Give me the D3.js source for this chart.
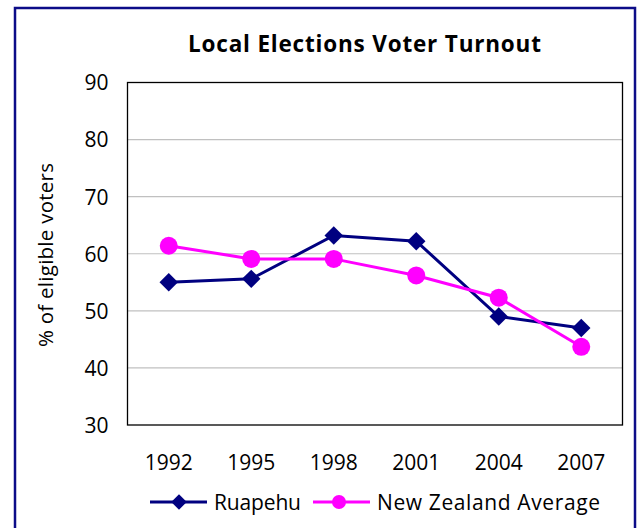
<!DOCTYPE html>
<html>
<head>
<meta charset="utf-8">
<title>Local Elections Voter Turnout</title>
<script src="https://cdnjs.cloudflare.com/ajax/libs/d3/7.8.5/d3.min.js"></script>
<style>
  body { margin: 0; background: #fff; }
  text { font-family: "Open Sans", Lato, sans-serif; fill: #000; }
</style>
</head>
<body>
<svg id="chart" width="642" height="528"></svg>
<script>
// data
var years = ["1992", "1995", "1998", "2001", "2004", "2007"];
var ruapehu = [55.0, 55.6, 63.2, 62.2, 49.0, 47.0];
var nzAverage = [61.4, 59.1, 59.1, 56.2, 52.3, 43.7];
var yTicks = [30, 40, 50, 60, 70, 80, 90];

var svg = d3.select("#chart");

// outer frame
svg.append("rect")
  .attr("x", 15).attr("y", 8)
  .attr("width", 620).attr("height", 540)
  .attr("fill", "none")
  .attr("stroke", "#0c0c88")
  .attr("stroke-width", 2.5);

var plot = { left: 127.5, top: 82.5, right: 622.5, bottom: 425 };

var x = d3.scaleBand().domain(years).range([plot.left, plot.right]);
var y = d3.scaleLinear().domain([30, 90]).range([plot.bottom, plot.top]);

// gridlines
svg.append("g")
  .selectAll("line")
  .data(yTicks.filter(function(d) { return d > 30 && d < 90; }))
  .join("line")
  .attr("x1", plot.left).attr("x2", plot.right)
  .attr("y1", function(d) { return y(d); })
  .attr("y2", function(d) { return y(d); })
  .attr("stroke", "#c0c0c0")
  .attr("stroke-width", 1.2);

// plot border
svg.append("rect")
  .attr("x", plot.left).attr("y", plot.top)
  .attr("width", plot.right - plot.left)
  .attr("height", plot.bottom - plot.top)
  .attr("fill", "none")
  .attr("stroke", "#000")
  .attr("stroke-width", 1.3);

// y axis labels
var yAxis = d3.axisLeft(y).tickValues(yTicks).tickSize(0).tickPadding(19);
var gy = svg.append("g")
  .attr("transform", "translate(" + plot.left + ",0)")
  .call(yAxis);
gy.select(".domain").remove();
gy.selectAll("text")
  .style("font-size", "21px")
  .attr("dy", "0.35em");

// x axis labels
var xAxis = d3.axisBottom(x).tickSize(0).tickPadding(30);
var gx = svg.append("g")
  .attr("transform", "translate(0," + plot.bottom + ")")
  .call(xAxis);
gx.select(".domain").remove();
gx.selectAll("text").style("font-size", "21px");

// title
svg.append("text")
  .attr("x", 364.5).attr("y", 52)
  .attr("text-anchor", "middle")
  .attr("textLength", 353)
  .style("font-size", "22.5px")
  .style("font-weight", "bold")
  .text("Local Elections Voter Turnout");

// y axis title
svg.append("text")
  .attr("transform", "translate(53,255) rotate(-90)")
  .attr("text-anchor", "middle")
  .attr("textLength", 184)
  .style("font-size", "20.5px")
  .text("% of eligible voters");

var line = d3.line()
  .x(function(d, i) { return x(years[i]) + x.bandwidth() / 2; })
  .y(function(d) { return y(d); });

var diamond = d3.symbol().type(d3.symbolSquare).size(170);

function drawRuapehu() {
  svg.append("path")
    .datum(ruapehu)
    .attr("d", line)
    .attr("fill", "none")
    .attr("stroke", "#000080")
    .attr("stroke-width", 3);
}

function drawNz() {
  svg.append("path")
    .datum(nzAverage)
    .attr("d", line)
    .attr("fill", "none")
    .attr("stroke", "#ff00ff")
    .attr("stroke-width", 3);
}

drawRuapehu();
svg.append("g").selectAll("path")
  .data(ruapehu)
  .join("path")
  .attr("d", diamond)
  .attr("transform", function(d, i) {
    return "translate(" + (x(years[i]) + x.bandwidth() / 2) + "," + y(d) + ") rotate(45)";
  })
  .attr("fill", "#000080");

drawNz();
svg.append("g").selectAll("circle")
  .data(nzAverage)
  .join("circle")
  .attr("cx", function(d, i) { return x(years[i]) + x.bandwidth() / 2; })
  .attr("cy", function(d) { return y(d); })
  .attr("r", 9)
  .attr("fill", "#ff00ff");

// legend
var legend = svg.append("g").attr("transform", "translate(0,502)");
legend.append("line")
  .attr("x1", 150).attr("x2", 207).attr("y1", 0).attr("y2", 0)
  .attr("stroke", "#000080").attr("stroke-width", 3);
legend.append("path")
  .attr("d", d3.symbol().type(d3.symbolSquare).size(120))
  .attr("transform", "translate(179,0) rotate(45)")
  .attr("fill", "#000080");
legend.append("text")
  .attr("x", 214).attr("y", 7.5)
  .attr("textLength", 87)
  .style("font-size", "21px")
  .text("Ruapehu");
legend.append("line")
  .attr("x1", 313).attr("x2", 370).attr("y1", 0).attr("y2", 0)
  .attr("stroke", "#ff00ff").attr("stroke-width", 3);
legend.append("circle")
  .attr("cx", 339).attr("cy", 0).attr("r", 7)
  .attr("fill", "#ff00ff");
legend.append("text")
  .attr("x", 377).attr("y", 7.5)
  .attr("textLength", 223)
  .style("font-size", "21px")
  .text("New Zealand Average");
</script>
</body>
</html>
